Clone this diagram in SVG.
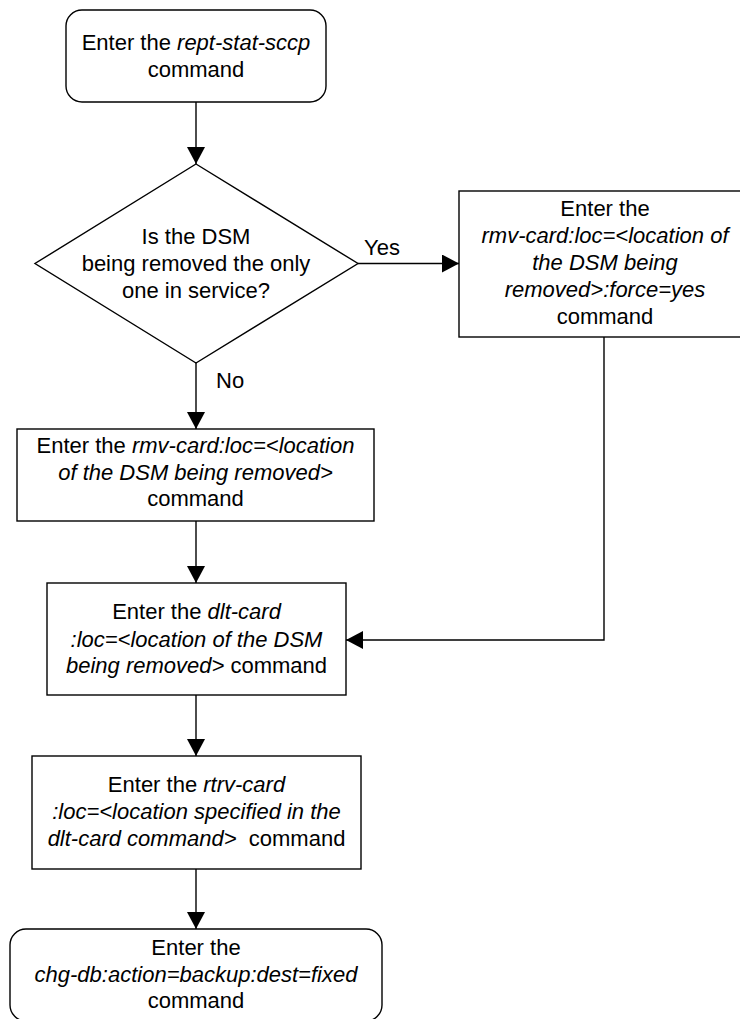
<svg xmlns="http://www.w3.org/2000/svg" width="740" height="1019" viewBox="0 0 740 1019">
<style>
.s{fill:#fff;stroke:#000;stroke-width:1.4}
.c{fill:none;stroke:#000;stroke-width:1.4}
text{font-family:"Liberation Sans",Arial,Helvetica,sans-serif;font-size:22px;fill:#000}
.m{text-anchor:middle}
.i{font-style:italic}
</style>
<defs>
<marker id="ah" markerUnits="userSpaceOnUse" markerWidth="18" markerHeight="18" refX="17" refY="9" orient="auto">
<path d="M0,0 L17,9 L0,18 Z" fill="#000"/>
</marker>
</defs>
<rect width="740" height="1019" fill="#fff"/>
<g id="connectors">
<line class="c" x1="196" y1="102" x2="196" y2="164" marker-end="url(#ah)"/>
<line class="c" x1="358" y1="263.5" x2="459" y2="263.5" marker-end="url(#ah)"/>
<line class="c" x1="196" y1="363" x2="196" y2="429" marker-end="url(#ah)"/>
<line class="c" x1="196" y1="521" x2="196" y2="583" marker-end="url(#ah)"/>
<polyline class="c" points="604,337 604,640 346,640" marker-end="url(#ah)"/>
<line class="c" x1="196" y1="695" x2="196" y2="756" marker-end="url(#ah)"/>
<line class="c" x1="196" y1="869" x2="196" y2="929" marker-end="url(#ah)"/>
<text x="364" y="255">Yes</text>
<text x="216" y="388">No</text>
</g>
<g id="start">
<rect class="s" x="66" y="10" width="260" height="92" rx="16"/>
<text class="m" x="196" y="50">Enter the <tspan class="i">rept-stat-sccp</tspan></text>
<text class="m" x="196" y="77">command</text>
</g>
<g id="decision">
<polygon class="s" points="196,164 358,263.5 196,363 35,263.5"/>
<text class="m" x="196" y="244">Is the DSM</text>
<text class="m" x="196" y="271">being removed the only</text>
<text class="m" x="196" y="297.5">one in service?</text>
</g>
<g id="force">
<rect class="s" x="459" y="191" width="292" height="146"/>
<text class="m" x="605" y="216">Enter the</text>
<text class="m i" x="605" y="243">rmv-card:loc=&lt;location of</text>
<text class="m i" x="605" y="270">the DSM being</text>
<text class="m i" x="605" y="297">removed&gt;:force=yes</text>
<text class="m" x="605" y="324">command</text>
</g>
<g id="rmv">
<rect class="s" x="17" y="429" width="357" height="92"/>
<text class="m" x="195.5" y="453">Enter the <tspan class="i">rmv-card:loc=&lt;location</tspan></text>
<text class="m i" x="195.5" y="480">of the DSM being removed&gt;</text>
<text class="m" x="195.5" y="506">command</text>
</g>
<g id="dlt">
<rect class="s" x="47" y="583" width="299" height="112"/>
<text class="m" x="196.5" y="619">Enter the <tspan class="i">dlt-card</tspan></text>
<text class="m i" x="196.5" y="647">:loc=&lt;location of the DSM</text>
<text class="m" x="196.5" y="673"><tspan class="i">being removed&gt;</tspan> command</text>
</g>
<g id="rtrv">
<rect class="s" x="32" y="756" width="329" height="113"/>
<text class="m" x="196.5" y="792">Enter the <tspan class="i">rtrv-card</tspan></text>
<text class="m i" x="196.5" y="819">:loc=&lt;location specified in the</text>
<text class="m" x="196.5" y="846" xml:space="preserve"><tspan class="i">dlt-card command&gt;</tspan>  command</text>
</g>
<g id="end">
<rect class="s" x="10" y="929" width="372" height="92" rx="16"/>
<text class="m" x="196" y="955">Enter the</text>
<text class="m i" x="196" y="982">chg-db:action=backup:dest=fixed</text>
<text class="m" x="196" y="1008">command</text>
</g>
</svg>
